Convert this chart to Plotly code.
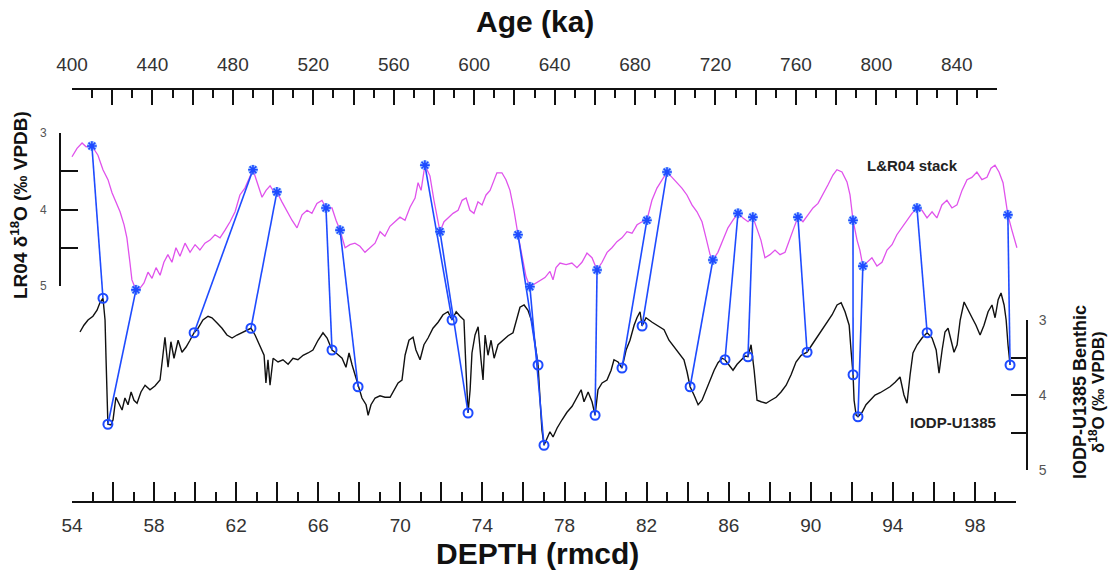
import plotly.graph_objects as go

# ---------------- data ----------------
lr04_age = [400.0, 402.5, 405.0, 407.0, 409.9, 412.9, 415.4, 417.9, 419.9, 422.4,
            423.9, 425.9, 427.3, 428.8, 429.8, 431.8, 433.8, 435.8, 437.8, 439.8,
            441.8, 443.8, 445.7, 447.7, 449.7, 451.7, 453.7, 456.2, 458.7, 461.2,
            463.6, 466.1, 468.6, 471.1, 473.6, 476.1, 478.6, 481.1, 483.5, 486.0,
            488.0, 490.0, 492.5, 494.5, 496.5, 498.5, 500.4, 501.9, 504.4, 506.9,
            509.4, 511.9, 514.4, 516.9, 519.3, 521.8, 524.3, 526.3, 529.3, 531.3,
            533.3, 535.8, 538.2, 540.7, 543.2, 545.7, 548.2, 550.7, 553.2, 555.6,
            558.1, 560.6, 563.1, 565.6, 568.1, 570.6, 572.1, 573.6, 575.5, 578.0,
            580.0, 583.0, 585.0, 587.0, 589.5, 592.0, 594.0, 596.0, 597.9, 599.9,
            601.9, 603.9, 605.9, 607.9, 609.9, 611.3, 613.8, 615.8, 617.8, 619.8,
            621.8, 623.8, 625.8, 627.7, 630.2, 632.7, 635.2, 637.7, 639.2, 640.7,
            642.7, 645.7, 648.6, 651.1, 653.6, 656.1, 658.6, 661.1, 663.6, 666.1,
            668.5, 671.0, 673.5, 676.0, 678.5, 681.0, 683.5, 685.9, 688.4, 690.9,
            693.4, 695.9, 698.4, 700.8, 703.3, 705.8, 708.3, 710.8, 713.3, 715.3,
            717.3, 718.7, 721.2, 723.7, 726.2, 728.7, 731.2, 733.7, 736.2, 738.6,
            740.6, 742.6, 744.6, 747.1, 749.6, 752.1, 754.6, 757.0, 759.0, 761.0,
            763.5, 766.0, 768.5, 771.0, 773.4, 775.9, 778.4, 780.4, 782.9, 785.4,
            786.9, 788.4, 790.4, 791.8, 793.3, 795.3, 797.8, 800.3, 802.8, 805.3,
            807.8, 810.2, 812.7, 815.2, 817.7, 820.2, 822.7, 825.2, 827.7, 830.1,
            832.6, 835.1, 837.6, 840.1, 842.6, 845.1, 847.5, 850.0, 852.5, 855.0,
            857.0, 859.0, 861.0, 863.0, 865.4, 867.4, 869.9]
lr04_d18o = [3.31, 3.20, 3.13, 3.18, 3.17, 3.29, 3.48, 3.61, 3.78, 3.94,
             4.03, 4.20, 4.37, 4.69, 4.92, 5.05, 5.03, 4.96, 4.82, 4.90,
             4.76, 4.86, 4.69, 4.59, 4.69, 4.50, 4.61, 4.44, 4.56, 4.46,
             4.53, 4.44, 4.40, 4.33, 4.37, 4.27, 4.16, 4.03, 3.81, 3.72,
             3.59, 3.48, 3.68, 3.84, 3.75, 3.69, 3.77, 3.77, 3.90, 4.03,
             4.14, 4.24, 4.07, 4.01, 4.05, 3.92, 3.88, 3.98, 3.98, 4.14,
             4.27, 4.50, 4.46, 4.44, 4.48, 4.56, 4.50, 4.44, 4.29, 4.35,
             4.22, 4.16, 4.10, 4.14, 3.97, 3.85, 3.65, 3.75, 3.42, 3.56,
             3.88, 4.29, 4.16, 4.11, 4.05, 4.01, 3.88, 3.85, 4.01, 4.05,
             3.90, 3.94, 3.81, 3.75, 3.61, 3.52, 3.52, 3.61, 3.75, 4.01,
             4.33, 4.63, 4.88, 5.01, 4.97, 4.94, 4.89, 4.81, 4.92, 4.76,
             4.70, 4.72, 4.70, 4.76, 4.69, 4.57, 4.63, 4.79, 4.69, 4.56,
             4.50, 4.42, 4.37, 4.29, 4.31, 4.20, 4.16, 4.14, 3.88, 3.72,
             3.61, 3.51, 3.58, 3.65, 3.72, 3.81, 3.94, 4.03, 4.16, 4.37,
             4.59, 4.66, 4.56, 4.40, 4.24, 4.14, 4.05, 4.11, 4.16, 4.10,
             4.24, 4.40, 4.63, 4.59, 4.53, 4.59, 4.56, 4.37, 4.24, 4.10,
             4.16, 4.07, 3.98, 3.92, 3.81, 3.68, 3.55, 3.48, 3.51, 3.64,
             3.81, 4.14, 4.40, 4.53, 4.74, 4.69, 4.63, 4.74, 4.69, 4.53,
             4.46, 4.33, 4.24, 4.14, 4.05, 3.98, 4.01, 4.11, 4.03, 4.11,
             3.94, 3.88, 3.98, 3.94, 3.75, 3.61, 3.58, 3.51, 3.61, 3.58,
             3.46, 3.42, 3.51, 3.65, 4.07, 4.27, 4.50]

u1385_depth = [54.39, 54.58, 54.78, 55.02, 55.22, 55.36, 55.51, 55.61, 55.66, 55.71,
               55.75, 55.90, 56.00, 56.14, 56.29, 56.44, 56.58, 56.73, 56.88, 57.02,
               57.17, 57.36, 57.56, 57.80, 58.04, 58.29, 58.43, 58.53, 58.68, 58.82,
               58.97, 59.17, 59.36, 59.56, 59.75, 59.95, 60.14, 60.38, 60.63, 60.82,
               61.07, 61.31, 61.55, 61.80, 62.04, 62.28, 62.53, 62.72, 62.92, 63.16,
               63.36, 63.45, 63.55, 63.65, 63.80, 64.04, 64.28, 64.53, 64.77, 65.01,
               65.26, 65.50, 65.74, 65.99, 66.23, 66.43, 66.67, 66.91, 67.16, 67.35,
               67.50, 67.65, 67.79, 67.94, 68.13, 68.33, 68.43, 68.57, 68.77, 69.01,
               69.25, 69.50, 69.69, 69.89, 70.08, 70.23, 70.42, 70.62, 70.76, 70.96,
               71.15, 71.35, 71.59, 71.84, 72.08, 72.32, 72.52, 72.72, 72.91, 73.10,
               73.20, 73.30, 73.40, 73.49, 73.64, 73.79, 73.93, 74.03, 74.13, 74.27,
               74.42, 74.57, 74.76, 75.00, 75.25, 75.49, 75.69, 75.83, 76.03, 76.22,
               76.42, 76.56, 76.71, 76.81, 76.90, 77.00, 77.15, 77.29, 77.44, 77.64,
               77.88, 78.12, 78.37, 78.61, 78.81, 78.95, 79.15, 79.34, 79.49, 79.63,
               79.83, 80.07, 80.27, 80.41, 80.61, 80.80, 81.00, 81.19, 81.39, 81.53,
               81.68, 81.78, 81.97, 82.27, 82.56, 82.85, 83.09, 83.34, 83.58, 83.82,
               83.97, 84.12, 84.31, 84.51, 84.70, 84.90, 85.09, 85.29, 85.48, 85.68,
               85.82, 86.02, 86.21, 86.41, 86.60, 86.80, 86.94, 87.09, 87.24, 87.38,
               87.58, 87.82, 88.06, 88.31, 88.55, 88.80, 89.04, 89.28, 89.53, 89.82,
               90.06, 90.31, 90.55, 90.79, 91.04, 91.28, 91.48, 91.67, 91.87, 91.96,
               92.06, 92.11, 92.21, 92.30, 92.50, 92.69, 92.89, 93.13, 93.38, 93.62,
               93.86, 94.11, 94.35, 94.54, 94.69, 94.84, 94.98, 95.18, 95.42, 95.67,
               95.91, 96.11, 96.25, 96.40, 96.54, 96.69, 96.84, 96.98, 97.13, 97.28,
               97.47, 97.66, 97.86, 98.05, 98.25, 98.44, 98.64, 98.83, 98.98, 99.13,
               99.27, 99.42, 99.52, 99.61, 99.71]
u1385_d18o = [3.16, 3.07, 3.00, 2.95, 2.87, 2.77, 2.71, 3.00, 3.53, 4.00,
              4.39, 4.40, 4.33, 4.03, 4.12, 4.20, 4.04, 4.13, 3.96, 4.07,
              4.11, 3.96, 3.87, 3.93, 3.88, 3.80, 3.47, 3.23, 3.63, 3.29,
              3.51, 3.27, 3.43, 3.36, 3.27, 3.17, 3.11, 3.00, 2.95, 2.97,
              3.04, 3.11, 3.20, 3.24, 3.20, 3.17, 3.13, 3.11, 3.20, 3.35,
              3.47, 3.84, 3.53, 3.87, 3.51, 3.56, 3.53, 3.59, 3.51, 3.53,
              3.47, 3.44, 3.40, 3.27, 3.17, 3.24, 3.40, 3.45, 3.51, 3.63,
              3.44, 3.60, 3.73, 3.89, 4.04, 4.13, 4.27, 4.13, 4.04, 4.01,
              4.03, 4.03, 3.93, 3.84, 3.80, 3.47, 3.27, 3.23, 3.40, 3.53,
              3.33, 3.24, 3.11, 3.03, 2.93, 2.89, 3.00, 2.89, 2.95, 3.00,
              3.67, 4.24, 3.93, 3.44, 3.20, 3.09, 3.53, 3.80, 3.20, 3.47,
              3.27, 3.51, 3.33, 3.27, 3.21, 3.17, 2.97, 2.83, 2.80, 2.87,
              3.03, 3.29, 3.60, 4.07, 4.47, 4.67, 4.57, 4.49, 4.56, 4.44,
              4.33, 4.23, 4.15, 4.04, 3.93, 4.09, 3.96, 4.09, 4.27, 3.93,
              3.84, 3.80, 3.67, 3.53, 3.56, 3.64, 3.40, 3.27, 3.07, 2.97,
              2.89, 3.08, 2.97, 3.03, 3.08, 3.13, 3.27, 3.36, 3.43, 3.53,
              3.69, 3.89, 4.00, 4.13, 4.07, 3.93, 3.80, 3.67, 3.57, 3.51,
              3.53, 3.60, 3.67, 3.59, 3.53, 3.48, 3.49, 3.33, 3.67, 4.07,
              4.09, 4.11, 4.07, 4.03, 3.96, 3.87, 3.73, 3.56, 3.47, 3.43,
              3.33, 3.23, 3.13, 3.03, 2.93, 2.80, 2.77, 2.89, 3.07, 3.40,
              3.73, 4.07, 4.27, 4.29, 4.23, 4.13, 4.07, 4.00, 3.97, 3.93,
              3.89, 3.83, 3.76, 4.00, 4.11, 3.73, 3.44, 3.33, 3.24, 3.17,
              3.24, 3.40, 3.71, 3.40, 3.16, 3.11, 3.27, 3.43, 3.33, 3.00,
              2.76, 2.87, 2.97, 3.07, 3.20, 3.07, 2.89, 2.80, 2.97, 2.73,
              2.64, 2.80, 3.00, 3.33, 3.60]

# tie points (LR04 age/value  <->  U1385 depth/value)
tie_age = [409.9, 431.8, 490.0, 501.9, 526.3, 533.3, 575.5, 583.0, 621.8, 627.7, 661.1,
           685.9, 695.9, 718.7, 731.2, 738.6, 761.0, 788.4, 793.3, 820.2, 865.4]
tie_lr04 = [3.17, 5.05, 3.48, 3.77, 3.98, 4.27, 3.42, 4.29, 4.33, 5.01, 4.79,
            4.14, 3.51, 4.66, 4.05, 4.10, 4.10, 4.14, 4.74, 3.98, 4.07]
tie_depth = [55.51, 55.75, 59.95, 62.72, 66.67, 67.94, 72.52, 73.30, 76.71, 77.00, 79.49,
             80.80, 81.78, 84.12, 85.82, 86.94, 89.82, 92.06, 92.30, 95.67, 99.71]
tie_u1385 = [2.71, 4.39, 3.17, 3.11, 3.40, 3.89, 3.00, 4.24, 3.60, 4.67, 4.27,
             3.64, 3.08, 3.89, 3.53, 3.49, 3.43, 3.73, 4.29, 3.17, 3.60]

# axis ranges / tick steps
DEPTH_RANGE = [54, 100]
AGE_RANGE = [400, 860]
D18O_RANGE = [5, 3]

# ---------------- layout geometry (pixels) ----------------
W, H = 1109, 579
DX0, DX1 = 72, 1016          # bottom depth axis span
AX1 = 997                    # top age axis end
LR_Y = (133, 286)            # pixel of value 3 and 5 on left axis
U_Y = (320, 470)             # pixel of value 3 and 5 on right axis
TOP_Y, BOT_Y = 89, 502
LEFT_X, RIGHT_X = 60, 1027

px_per_ka = (AX1 - DX0) / (AGE_RANGE[1] - AGE_RANGE[0])
px_per_m = (DX1 - DX0) / (DEPTH_RANGE[1] - DEPTH_RANGE[0])
lr_pp = (LR_Y[1] - LR_Y[0]) / 2.0
u_pp = (U_Y[1] - U_Y[0]) / 2.0

age_full = [AGE_RANGE[0] - DX0 / px_per_ka, AGE_RANGE[0] + (W - DX0) / px_per_ka]
lr_full = [3 + (H - LR_Y[0]) / lr_pp, 3 - LR_Y[0] / lr_pp]
u_full = [3 + (H - U_Y[0]) / u_pp, 3 - U_Y[0] / u_pp]


def depth_to_age_frame(d):
    px = DX0 + (d - DEPTH_RANGE[0]) * px_per_m
    return AGE_RANGE[0] + (px - DX0) / px_per_ka


def u_to_lr_frame(v):
    py = U_Y[0] + (v - 3) * u_pp
    return 3 + (py - LR_Y[0]) / lr_pp


MAGENTA = "#E052EC"
BLUE = "#1E4BFF"
FONT = "Liberation Sans, Arial, sans-serif"

fig = go.Figure()

# LR04 stack
fig.add_trace(go.Scatter(x=lr04_age, y=lr04_d18o, xaxis="x3", yaxis="y3", mode="lines",
                         line=dict(color=MAGENTA, width=1.3), hoverinfo="skip"))
# U1385
fig.add_trace(go.Scatter(x=u1385_depth, y=u1385_d18o, xaxis="x", yaxis="y4", mode="lines",
                         line=dict(color="#111111", width=1.4), hoverinfo="skip"))

# tie lines
tx, ty = [], []
for a, l, d, u in zip(tie_age, tie_lr04, tie_depth, tie_u1385):
    tx += [a, depth_to_age_frame(d), None]
    ty += [l, u_to_lr_frame(u), None]
fig.add_trace(go.Scatter(x=tx, y=ty, xaxis="x3", yaxis="y3", mode="lines",
                         line=dict(color=BLUE, width=1.6), hoverinfo="skip"))

# markers on LR04 (blue asterisk with light halo)
fig.add_trace(go.Scatter(x=tie_age, y=tie_lr04, xaxis="x3", yaxis="y3", mode="markers",
                         marker=dict(symbol="circle", size=10, color="rgba(80,150,255,0.55)",
                                     line=dict(width=0)),
                         hoverinfo="skip"))
fig.add_trace(go.Scatter(x=tie_age, y=tie_lr04, xaxis="x3", yaxis="y3", mode="markers",
                         marker=dict(symbol="asterisk-open", size=8, color=BLUE,
                                     line=dict(color=BLUE, width=1.6)),
                         hoverinfo="skip"))
# markers on U1385 (open circles)
fig.add_trace(go.Scatter(x=tie_depth, y=tie_u1385, xaxis="x", yaxis="y4", mode="markers",
                         marker=dict(symbol="circle-open", size=9, color=BLUE,
                                     line=dict(color=BLUE, width=2)),
                         hoverinfo="skip"))

# empty traces so that the tick-only axes get drawn
fig.add_trace(go.Scatter(x=[None], y=[None], xaxis="x2", yaxis="y", mode="lines",
                         hoverinfo="skip"))
fig.add_trace(go.Scatter(x=[None], y=[None], xaxis="x2", yaxis="y2", mode="lines",
                         hoverinfo="skip"))

axis_common = dict(showgrid=False, zeroline=False, showline=True, linecolor="#111111",
                   linewidth=2, ticks="inside", tickcolor="#111111", tickwidth=2,
                   tickmode="linear", ticklabelstep=2, fixedrange=True, automargin=False)

fig.update_layout(
    width=W, height=H, margin=dict(l=0, r=0, t=0, b=0, pad=0, autoexpand=False),
    paper_bgcolor="white", plot_bgcolor="rgba(0,0,0,0)", showlegend=False,
    font=dict(family=FONT, color="#333333"),
    xaxis=dict(domain=[DX0 / W, DX1 / W], range=DEPTH_RANGE, anchor="free",
               position=1 - BOT_Y / H, side="bottom", tick0=54, dtick=2,
               ticklen=19, ticklabelstandoff=6,
               tickfont=dict(size=19, color="#333333"),
               minor=dict(ticks="inside", ticklen=9, tickwidth=2, tickcolor="#111111",
                          dtick=1, tick0=54),
               **axis_common),
    xaxis2=dict(domain=[DX0 / W, AX1 / W], range=AGE_RANGE, anchor="free",
                position=1 - TOP_Y / H, side="top", tick0=400, dtick=20,
                ticklen=15, ticklabelstandoff=9,
                tickfont=dict(size=19, color="#333333"),
                minor=dict(ticks="inside", ticklen=8, tickwidth=2, tickcolor="#111111",
                           dtick=10, tick0=400),
                **axis_common),
    yaxis=dict(domain=[1 - LR_Y[1] / H, 1 - LR_Y[0] / H], range=D18O_RANGE, anchor="free",
               position=LEFT_X / W, side="left", tick0=3, dtick=0.5,
               ticklen=17, ticklabelstandoff=10, tickfont=dict(size=12, color="#555555"),
               **axis_common),
    yaxis2=dict(domain=[1 - U_Y[1] / H, 1 - U_Y[0] / H], range=D18O_RANGE, anchor="free",
                position=RIGHT_X / W, side="right", tick0=3, dtick=0.5,
                ticklen=15, ticklabelstandoff=8, tickfont=dict(size=14, color="#555555"),
                **axis_common),
    xaxis3=dict(domain=[0, 1], range=age_full, visible=False, fixedrange=True, automargin=False),
    yaxis3=dict(domain=[0, 1], range=lr_full, visible=False, anchor="x3", fixedrange=True,
                automargin=False),
    yaxis4=dict(domain=[0, 1], range=u_full, visible=False, anchor="x", fixedrange=True,
                automargin=False),
)

ann = [
    dict(text="<b>Age (ka)</b>", x=535 / W, y=1 - 22 / H, font=dict(size=30, color="#111111")),
    dict(text="<b>DEPTH (rmcd)</b>", x=537 / W, y=1 - 553 / H, font=dict(size=30, color="#111111")),
    dict(text="<b>LR04 δ<sup>18</sup>O (‰ VPDB)</b>", x=19 / W, y=1 - 205 / H, textangle=-90,
         font=dict(size=19, color="#111111")),
    dict(text="<b>IODP-U1385 Benthic</b>", x=1080 / W, y=1 - 392 / H, textangle=-90,
         font=dict(size=18, color="#111111")),
    dict(text="<b>δ<sup>18</sup>O (‰ VPDB)</b>", x=1097 / W, y=1 - 392 / H, textangle=-90,
         font=dict(size=17, color="#111111")),
]
for a in ann:
    a.update(xref="paper", yref="paper", showarrow=False, xanchor="center", yanchor="middle")
    fig.add_annotation(**a)

fig.add_annotation(text="<b>L&R04 stack</b>", x=depth_to_age_frame(54 + (912 - DX0) / px_per_m),
                   y=3.42, xref="x3", yref="y3", showarrow=False,
                   font=dict(size=15, color="#222222"))
fig.add_annotation(text="<b>IODP-U1385</b>", x=96.93, y=4.36, xref="x", yref="y4",
                   showarrow=False, font=dict(size=15, color="#222222"))

fig.write_html("out.html")
